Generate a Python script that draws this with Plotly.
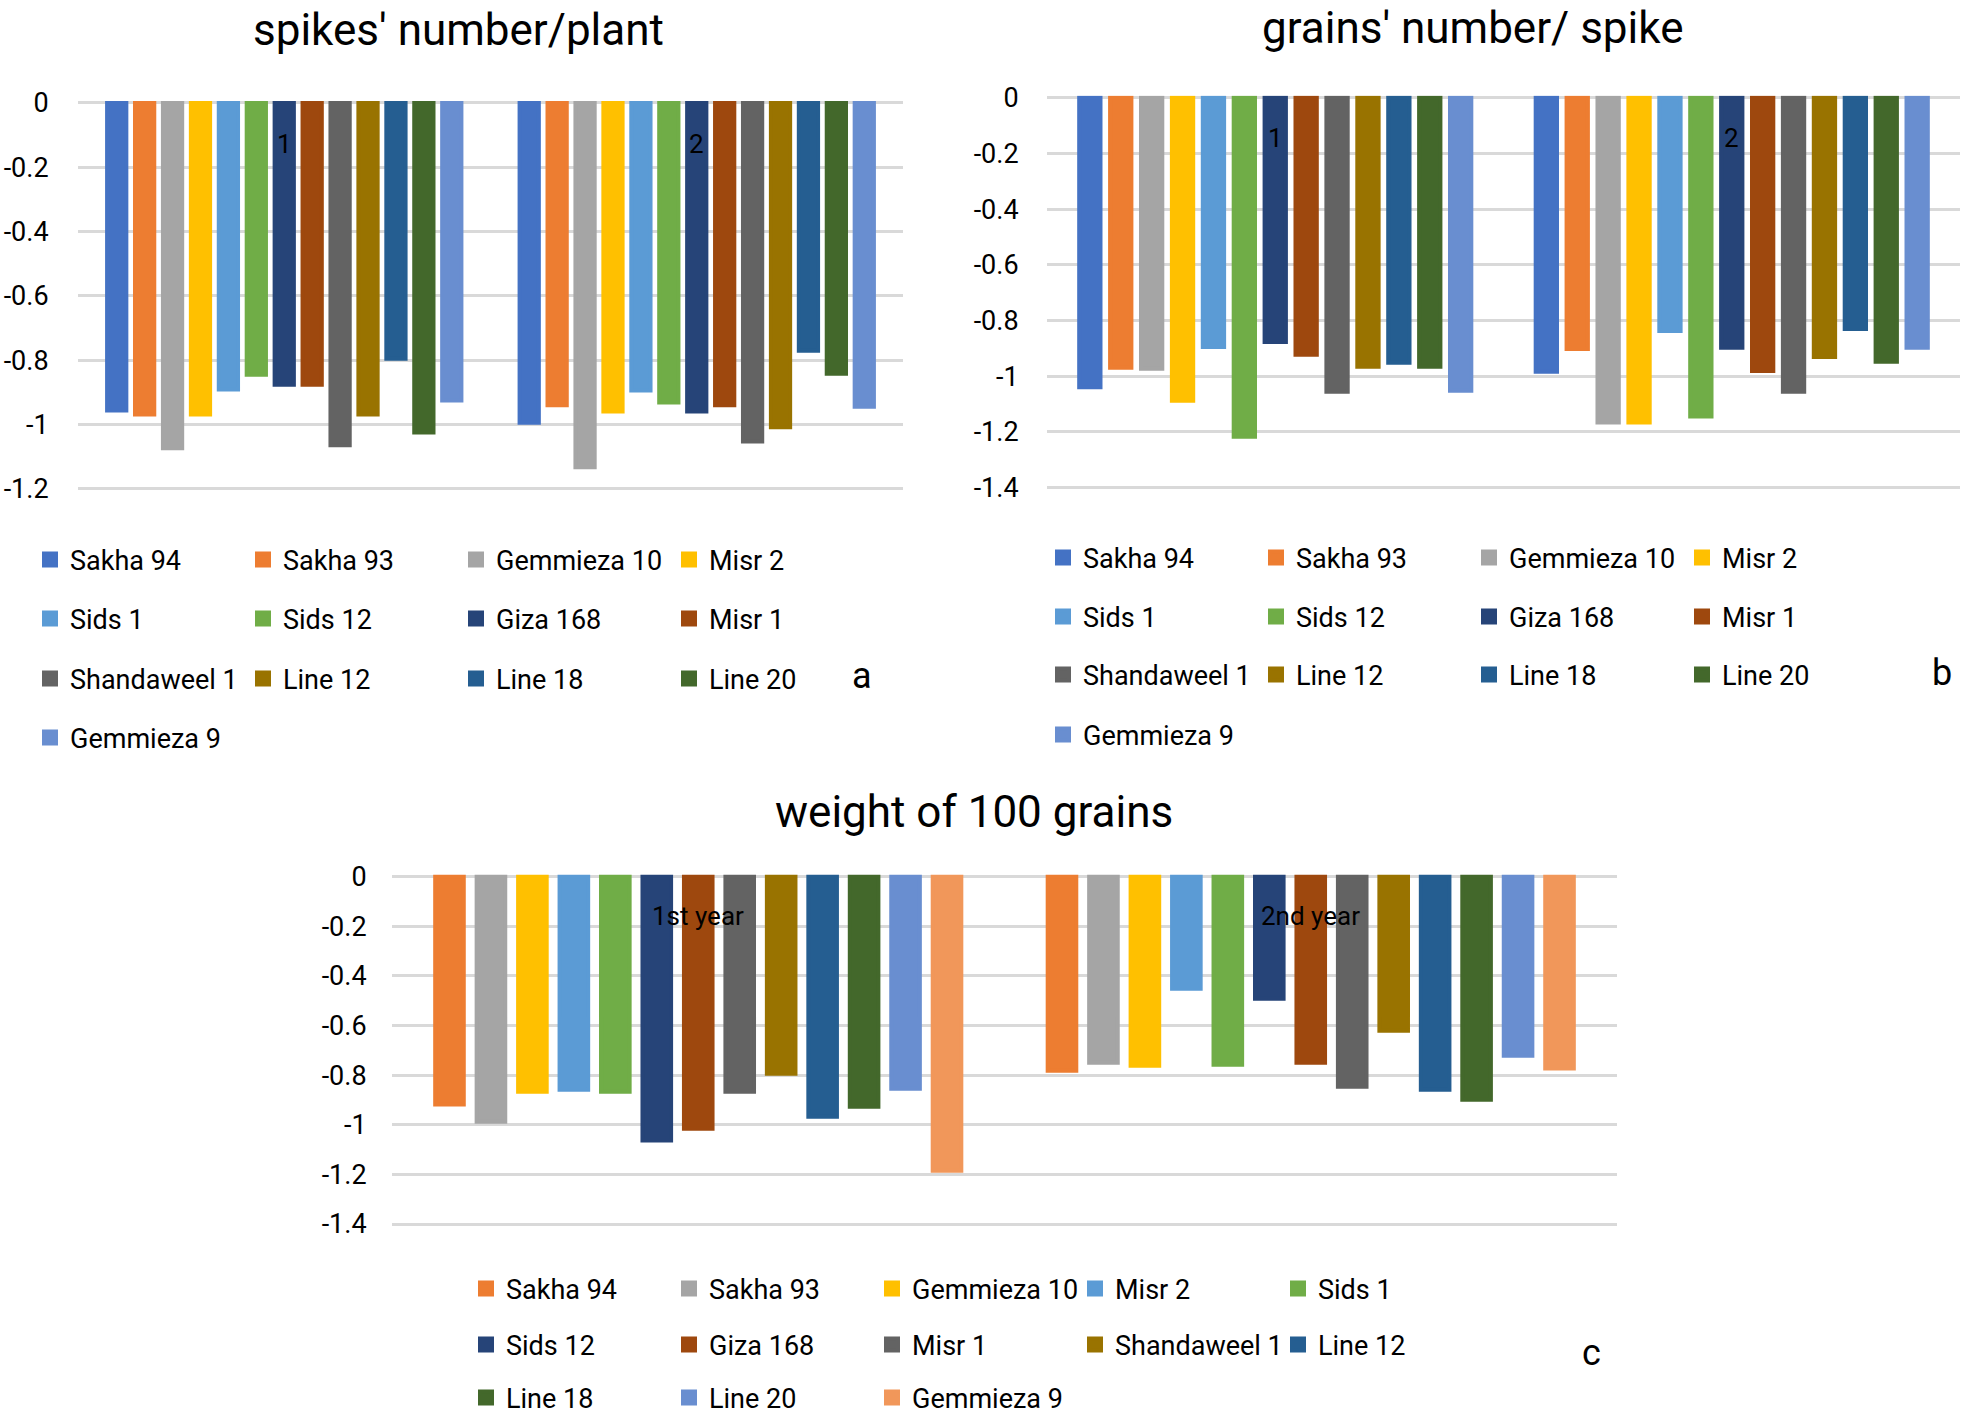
import plotly.graph_objects as go

W, H = 1968, 1417
FONT = "Roboto"

varieties = ["Sakha 94", "Sakha 93", "Gemmieza 10", "Misr 2", "Sids 1", "Sids 12",
             "Giza 168", "Misr 1", "Shandaweel 1", "Line 12", "Line 18", "Line 20",
             "Gemmieza 9"]
seasons_ab = ["1", "2"]
seasons_c = ["1st year", "2nd year"]

# spikes' number/plant
spikes_s1 = [-0.956, -0.968, -1.073, -0.968, -0.891, -0.845, -0.876, -0.876, -1.064, -0.968, -0.795, -1.024, -0.925]
spikes_s2 = [-0.994, -0.940, -1.132, -0.959, -0.894, -0.931, -0.959, -0.940, -1.052, -1.008, -0.770, -0.842, -0.944]
# grains' number/ spike
grains_s1 = [-1.040, -0.970, -0.973, -1.088, -0.895, -1.217, -0.877, -0.923, -1.056, -0.966, -0.952, -0.966, -1.052]
grains_s2 = [-0.984, -0.902, -1.166, -1.166, -0.838, -1.145, -0.898, -0.981, -1.056, -0.931, -0.830, -0.948, -0.898]
# weight of 100 grains
weight_s1 = [-0.919, -0.988, -0.867, -0.859, -0.867, -1.064, -1.016, -0.867, -0.795, -0.968, -0.928, -0.855, -1.185]
weight_s2 = [-0.783, -0.750, -0.762, -0.452, -0.758, -0.493, -0.750, -0.847, -0.621, -0.859, -0.899, -0.722, -0.774]

tickvals_a = [0, -0.2, -0.4, -0.6, -0.8, -1.0, -1.2]
ticktext_a = ["0", "-0.2", "-0.4", "-0.6", "-0.8", "-1", "-1.2"]
tickvals_bc = [0, -0.2, -0.4, -0.6, -0.8, -1.0, -1.2, -1.4]
ticktext_bc = ["0", "-0.2", "-0.4", "-0.6", "-0.8", "-1", "-1.2", "-1.4"]

titles = ["spikes' number/plant", "grains' number/ spike", "weight of 100 grains"]
panel_letters = ["a", "b", "c"]

colors = ["#4472C4", "#ED7D31", "#A5A5A5", "#FFC000", "#5B9BD5", "#70AD47", "#264478",
          "#9E480E", "#636363", "#997300", "#255E91", "#43682B", "#698ED0", "#F1975A"]

PAD = 0.008
BAR_LINE = 4


def px(x):
    return x / W


def py(y):
    return 1 - y / H


def ydomain(p0, pmin, vmin):
    per = (pmin - p0) / (-vmin)
    top = p0 - PAD * per
    bot = pmin + PAD * per
    return [py(bot), py(top)]


fig = go.Figure()

panels = [
    dict(xa="x", ya="y", cats=seasons_ab, s1=spikes_s1, s2=spikes_s2, cols=colors[0:13],
         legends=lambda i: ["legend", "legend2", "legend3", "legend4"][i // 4], laby=-0.127),
    dict(xa="x2", ya="y2", cats=seasons_ab, s1=grains_s1, s2=grains_s2, cols=colors[0:13],
         legends=lambda i: ["legend5", "legend6", "legend7", "legend8"][i // 4], laby=-0.143),
    dict(xa="x3", ya="y3", cats=seasons_c, s1=weight_s1, s2=weight_s2, cols=colors[1:14],
         legends=lambda i: ["legend9", "legend10", "legend11"][i // 5], laby=-0.158),
]

for p in panels:
    for i, name in enumerate(varieties):
        fig.add_trace(go.Bar(
            x=p["cats"], y=[p["s1"][i], p["s2"][i]], name=name,
            marker=dict(color=p["cols"][i], line=dict(width=BAR_LINE, color=p["cols"][i])),
            xaxis=p["xa"], yaxis=p["ya"], legend=p["legends"](i),
        ))

tickfont = dict(family=FONT, size=27, color="#000000")
catfont = dict(family=FONT, size=26, color="#000000")
GRID = "#D9D9D9"


def yaxis(dom, anchor, vmin, tv, tt, tl):
    return dict(domain=dom, anchor=anchor, range=[vmin - PAD, PAD], tickvals=tv, ticktext=tt,
                showgrid=True, gridcolor=GRID, gridwidth=3,
                zeroline=True, zerolinecolor=GRID, zerolinewidth=3,
                showline=False, ticks="outside", ticklen=tl, tickcolor="rgba(0,0,0,0)",
                tickfont=tickfont, fixedrange=True, automargin=False)


def xaxis(dom, anchor):
    return dict(domain=dom, anchor=anchor, type="category", range=[-0.5, 1.5],
                showticklabels=False, ticks="",
                showgrid=False, zeroline=False, showline=False,
                fixedrange=True, automargin=False)


layout = dict(
    template="none",
    width=W, height=H, margin=dict(l=0, r=0, t=0, b=0, pad=0, autoexpand=False),
    paper_bgcolor="white", plot_bgcolor="white",
    barmode="group", bargap=0.12, bargroupgap=0.31,
    font=dict(family=FONT, color="#000000"),
    xaxis=xaxis([px(78), px(903)], "y"),
    yaxis=yaxis(ydomain(103, 489, -1.2), "x", -1.2, tickvals_a, ticktext_a, 23),
    xaxis2=xaxis([px(1047), px(1960)], "y2"),
    yaxis2=yaxis(ydomain(97.8, 487.6, -1.4), "x2", -1.4, tickvals_bc, ticktext_bc, 22),
    xaxis3=xaxis([px(392), px(1617)], "y3"),
    yaxis3=yaxis(ydomain(876.5, 1224, -1.4), "x3", -1.4, tickvals_bc, ticktext_bc, 19),
    showlegend=True,
)

legfont = dict(family=FONT, size=27, color="#000000")
legend_specs = [
    # name, left px, center y px, entrywidth
    ("legend", 30, 560, 168), ("legend2", 30, 619, 168), ("legend3", 30, 679, 168), ("legend4", 30, 738, 168),
    ("legend5", 1043, 558, 168), ("legend6", 1043, 617, 168), ("legend7", 1043, 675, 168), ("legend8", 1043, 735, 168),
    ("legend9", 466, 1289, 158), ("legend10", 466, 1345, 158), ("legend11", 466, 1398, 158),
]
for name, lx, ly, ew in legend_specs:
    layout[name] = dict(orientation="h", x=px(lx), xanchor="left", y=py(ly), yanchor="middle",
                        entrywidth=ew, entrywidthmode="pixels", font=legfont,
                        bgcolor="rgba(0,0,0,0)", borderwidth=0, traceorder="normal",
                        tracegroupgap=0)

fig.update_layout(**layout)

# category labels, drawn inside the plot just below the zero line (as in the original)
for p in panels:
    for j, c in enumerate(p["cats"]):
        fig.add_annotation(text=c, x=j, y=p["laby"], xref=p["xa"], yref=p["ya"],
                           xanchor="center", yanchor="middle", showarrow=False,
                           font=catfont)

title_pos = [(458, 30), (1472, 28), (974, 812)]
for t, (tx, ty) in zip(titles, title_pos):
    fig.add_annotation(text=t, x=px(tx), y=py(ty), xref="paper", yref="paper",
                       xanchor="center", yanchor="middle", showarrow=False,
                       font=dict(family=FONT, size=44, color="#000000"))

letter_pos = [(862, 676), (1942, 673), (1591, 1353)]
for t, (tx, ty) in zip(panel_letters, letter_pos):
    fig.add_annotation(text=t, x=px(tx), y=py(ty), xref="paper", yref="paper",
                       xanchor="center", yanchor="middle", showarrow=False,
                       font=dict(family=FONT, size=36, color="#000000"))

fig.write_html("out.html", config={"displayModeBar": False},
               post_script="document.body.style.margin='0px';document.body.style.overflow='hidden';")
